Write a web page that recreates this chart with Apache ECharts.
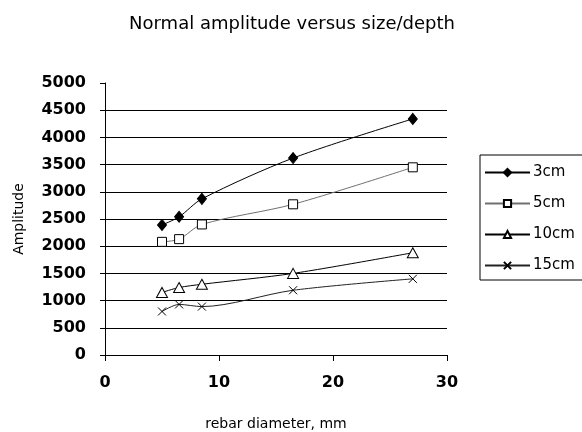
<!DOCTYPE html>
<html>
<head>
<meta charset="utf-8">
<script src="https://cdn.jsdelivr.net/npm/echarts@6/dist/echarts.min.js"></script>
<style>html,body{margin:0;padding:0;background:#fff}#c{width:582px;height:432px}</style>
</head>
<body>
<div id="c"></div>
<script>
var diameters = [5, 6.5, 8.5, 16.5, 27];
var seriesNames = ['3cm', '5cm', '10cm', '15cm'];
var amp3cm = [2390, 2540, 2870, 3620, 4340];
var amp5cm = [2080, 2130, 2400, 2770, 3450];
var amp10cm = [1150, 1240, 1300, 1500, 1880];
var amp15cm = [800, 930, 890, 1190, 1400];
var yTicks = [0, 500, 1000, 1500, 2000, 2500, 3000, 3500, 4000, 4500, 5000];
var xTicks = [0, 10, 20, 30];

function pairs(vals) { return diameters.map(function (d, i) { return [d, vals[i]]; }); }

var styles = [
  { symbol: 'diamond', size: [9, 11], color: '#000', fill: '#000', line: '#000' },
  { symbol: 'rect', size: 9, color: '#000', fill: '#fff', line: '#707070' },
  { symbol: 'triangle', size: [11, 10], color: '#000', fill: '#fff', line: '#000' },
  { symbol: 'path://M0,0L10,10M0,10L10,0', size: 8, color: '#000', fill: 'none', line: '#222' }
];
var allVals = [amp3cm, amp5cm, amp10cm, amp15cm];

var series = seriesNames.map(function (n, i) {
  var s = styles[i];
  return {
    name: n, type: 'line', data: pairs(allVals[i]), smooth: 0.3,
    symbol: s.symbol, symbolSize: s.size,
    lineStyle: { color: s.line, width: 1 },
    itemStyle: { color: s.fill, borderColor: s.color, borderWidth: 1 }
  };
});

var chart = echarts.init(document.getElementById('c'));
chart.setOption({
  animation: false,
  backgroundColor: '#fff',
  title: {
    text: 'Normal amplitude versus size/depth', left: 287, textAlign: 'center', top: 10,
    textStyle: { fontFamily: 'DejaVu Sans', fontSize: 18, fontWeight: 'normal', color: '#000' }
  },
  legend: {
    orient: 'vertical', left: 480, top: 155,
    padding: [10, 20, 7, 4],
    itemWidth: 45, itemHeight: 9, itemGap: 16,
    borderColor: '#000', borderWidth: 1,
    textStyle: { fontFamily: 'DejaVu Sans', fontSize: 15, color: '#000', padding: [0, 0, 0, -2] },
    data: seriesNames
  },
  grid: { left: 105, right: 135, top: 83, bottom: 77, containLabel: false, outerBoundsMode: 'none' },
  xAxis: {
    type: 'value', min: xTicks[0], max: xTicks[xTicks.length - 1], interval: 10,
    name: 'rebar diameter, mm', nameLocation: 'middle', nameGap: 62,
    nameTextStyle: { fontFamily: 'DejaVu Sans', fontSize: 14, color: '#000' },
    axisLine: { lineStyle: { color: '#000', width: 1 } },
    axisTick: { show: true, length: 6, lineStyle: { color: '#000' } },
    axisLabel: { fontFamily: 'DejaVu Sans', fontSize: 16, fontWeight: 'bold', color: '#000', margin: 20 },
    splitLine: { show: false }
  },
  yAxis: {
    type: 'value', min: yTicks[0], max: yTicks[yTicks.length - 1], interval: 500,
    name: 'Amplitude', nameLocation: 'middle', nameGap: 79, nameRotate: 90,
    nameTextStyle: { fontFamily: 'DejaVu Sans', fontSize: 14, color: '#000' },
    axisLine: { show: true, lineStyle: { color: '#000', width: 1 } },
    axisTick: { show: true, length: 5, lineStyle: { color: '#000' } },
    axisLabel: { fontFamily: 'DejaVu Sans', fontSize: 16, fontWeight: 'bold', color: '#000', margin: 19,
      formatter: function (v) { return String(v); } },
    splitLine: { show: true, showMaxLine: false, lineStyle: { color: '#000', width: 1 } }
  },
  series: series
});
</script>
</body>
</html>
